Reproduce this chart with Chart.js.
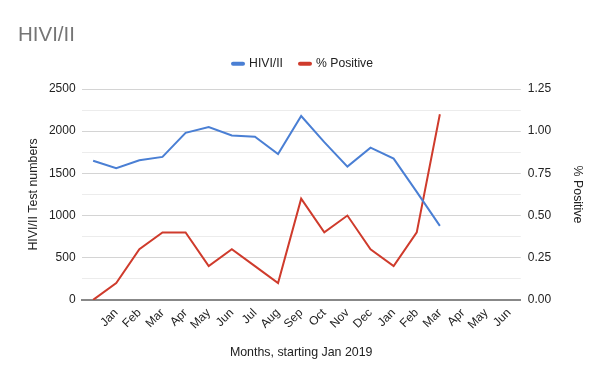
<!DOCTYPE html>
<html>
<head>
<meta charset="utf-8">
<script src="https://cdn.jsdelivr.net/npm/chart.js@4"></script>
<style>
  html, body { margin: 0; padding: 0; background: #fff; }
  #wrap { width: 596px; height: 374px; }
</style>
</head>
<body>
<div id="wrap"><canvas id="chart" width="596" height="374"></canvas></div>
<script>
// months, first slot is the unlabeled start point
const months = ['', 'Jan', 'Feb', 'Mar', 'Apr', 'May', 'Jun', 'Jul', 'Aug', 'Sep', 'Oct', 'Nov', 'Dec',
                'Jan', 'Feb', 'Mar', 'Apr', 'May', 'Jun'];
const testNumbers = [1650, 1560, 1655, 1695, 1980, 2050, 1950, 1935, 1730, 2180, 1870, 1580, 1805, 1675, 1280, 877];
const percentPositive = [0, 0.1, 0.3, 0.4, 0.4, 0.2, 0.3, 0.2, 0.1, 0.6, 0.4, 0.5, 0.3, 0.2, 0.4, 1.1];

const font = { family: 'Liberation Sans, Arial, sans-serif', size: 12 };
const titleFont = { family: font.family, size: 12.4 };
Chart.defaults.font.family = font.family;
Chart.defaults.color = '#222';

const ctx = document.getElementById('chart').getContext('2d');
new Chart(ctx, {
    type: 'line',
    data: {
        labels: months,
        datasets: [{
            label: 'HIVI/II',
            data: testNumbers,
            borderColor: '#4a7fd4',
            backgroundColor: '#4a7fd4',
            borderWidth: 2,
            pointRadius: 0,
            tension: 0,
            yAxisID: 'y'
        }, {
            label: '% Positive',
            data: percentPositive,
            borderColor: '#cf3b2c',
            backgroundColor: '#cf3b2c',
            borderWidth: 2,
            pointRadius: 0,
            tension: 0,
            yAxisID: 'y1'
        }]
    },
    options: {
        responsive: false,
        animation: false,
        layout: { padding: { left: 18, right: 8, top: 23, bottom: 10 } },
        plugins: {
            title: {
                display: true,
                text: 'HIVI/II',
                align: 'start',
                color: '#757575',
                font: { size: 20.5, weight: 'normal' },
                padding: { top: 0, bottom: -7 }
            },
            // empty spacer between legend and plot
            subtitle: {
                display: true,
                text: '',
                weight: 500,
                font: { size: 1 },
                padding: { top: 0, bottom: 8 }
            },
            legend: {
                labels: {
                    usePointStyle: true,
                    pointStyle: 'line',
                    pointStyleWidth: 10,
                    font: { family: font.family, size: 12.2 },
                    padding: 17,
                    generateLabels: chart => Chart.defaults.plugins.legend.labels.generateLabels(chart)
                        .map(item => Object.assign(item, { lineWidth: 4, lineCap: 'round' }))
                }
            },
            tooltip: { enabled: false }
        },
        scales: {
            x: {
                offset: true,
                grid: { display: false, drawTicks: false },
                border: { color: '#888', width: 2 },
                ticks: { font: font, minRotation: 45, maxRotation: 45, autoSkip: false, padding: 6 },
                title: { display: true, text: 'Months, starting Jan 2019', font: titleFont, padding: { top: 7, bottom: 4 } }
            },
            y: {
                position: 'left',
                min: 0,
                max: 2500,
                grid: {
                    drawTicks: false,
                    color: c => c.tick.value % 500 === 0 ? '#d4d4d4' : '#ececec'
                },
                border: { display: false },
                ticks: {
                    stepSize: 250,
                    font: font,
                    padding: 6,
                    callback: v => v % 500 === 0 ? v : ''
                },
                title: { display: true, text: 'HIVI/II Test numbers', font: titleFont, padding: { top: 8, bottom: 2 } }
            },
            y1: {
                position: 'right',
                min: 0,
                max: 1.25,
                grid: { drawOnChartArea: false, drawTicks: false },
                border: { display: false },
                ticks: {
                    stepSize: 0.125,
                    font: font,
                    padding: 7,
                    callback: v => Math.round(v * 1000) % 250 === 0 ? v.toFixed(2) : ''
                },
                title: { display: true, text: '% Positive', font: titleFont, padding: { top: 3, bottom: 12 } }
            }
        }
    }
});
</script>
</body>
</html>
